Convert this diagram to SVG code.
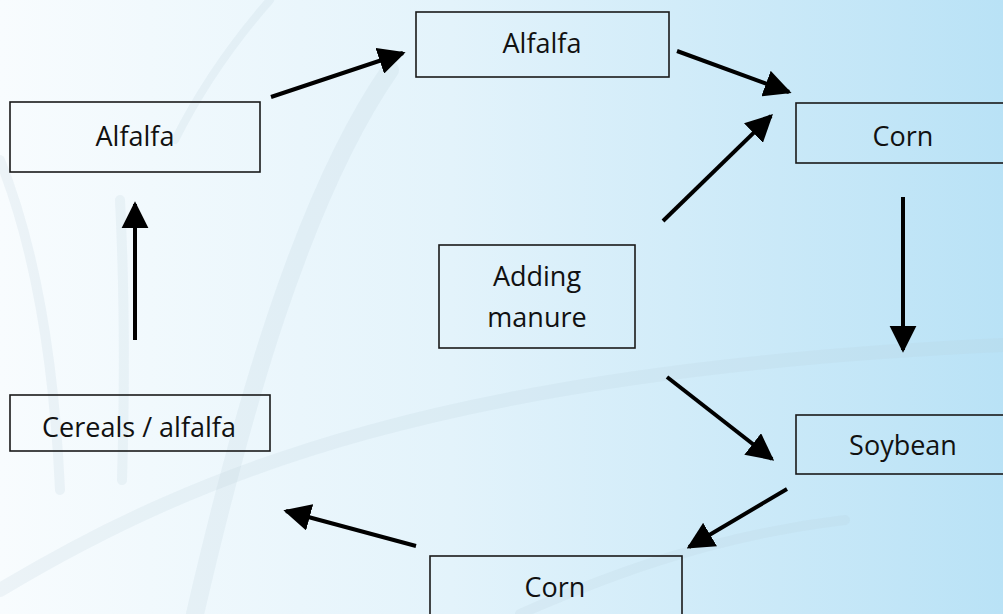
<svg xmlns="http://www.w3.org/2000/svg" width="1003" height="614" viewBox="0 0 1003 614">
<defs>
<linearGradient id="bg" x1="0" y1="0" x2="1" y2="0">
<stop offset="0" stop-color="#f8fcfe"/>
<stop offset="0.45" stop-color="#e3f3fb"/>
<stop offset="1" stop-color="#b9e2f6"/>
</linearGradient>
<marker id="ah" viewBox="0 0 10 10" refX="9" refY="5" markerWidth="6.8" markerHeight="6.8" markerUnits="strokeWidth" orient="auto">
<path d="M0,0 L10,5 L0,10 Z" fill="#000"/>
</marker>
<style>
.box{fill:none;stroke:#1a1a1a;stroke-width:1.6}
.lbl{font-family:"Open Sans","Noto Sans",sans-serif;font-size:27px;fill:#111;text-anchor:middle}
.con{stroke:#000;stroke-width:4;fill:none;marker-end:url(#ah)}
.sw{fill:none;stroke:#b8ccd8;stroke-opacity:0.18;stroke-linecap:round}
</style>
</defs>
<rect width="1003" height="614" fill="url(#bg)"/>
<g id="swooshes">
<path class="sw" stroke-width="18" d="M195,614 C240,420 300,200 390,70"/>
<path class="sw" stroke-width="10" d="M0,160 C40,260 55,380 60,490"/>
<path class="sw" stroke-width="10" d="M120,200 C125,300 125,380 122,480"/>
<path class="sw" stroke-width="14" d="M0,590 C200,470 450,370 1003,345"/>
<path class="sw" stroke-width="10" d="M520,614 C620,570 720,535 845,520"/>
<path class="sw" stroke-width="8" d="M270,0 C235,40 200,90 175,140"/>
</g>
<g id="connectors">
<line class="con" x1="271" y1="97" x2="403" y2="53"/>
<line class="con" x1="677" y1="51" x2="789" y2="92"/>
<line class="con" x1="663" y1="221" x2="771" y2="116"/>
<line class="con" x1="903" y1="197" x2="903" y2="350"/>
<line class="con" x1="667" y1="377" x2="772" y2="459"/>
<line class="con" x1="787" y1="489" x2="689" y2="547"/>
<line class="con" x1="416" y1="546" x2="286" y2="511"/>
<line class="con" x1="135" y1="340" x2="135" y2="204"/>
</g>
<g id="n-alfalfa-left"><rect class="box" x="10" y="102" width="250" height="70"/><text class="lbl" x="135" y="146">Alfalfa</text></g>
<g id="n-alfalfa-top"><rect class="box" x="416" y="12" width="253" height="65"/><text class="lbl" x="542" y="53">Alfalfa</text></g>
<g id="n-corn-right"><rect class="box" x="796" y="103" width="215" height="60"/><text class="lbl" x="903" y="146">Corn</text></g>
<g id="n-manure"><rect class="box" x="439" y="245" width="196" height="103"/><text class="lbl" x="537" y="286">Adding</text><text class="lbl" x="537" y="327">manure</text></g>
<g id="n-soybean"><rect class="box" x="796" y="415" width="215" height="59"/><text class="lbl" x="903" y="455">Soybean</text></g>
<g id="n-corn-bottom"><rect class="box" x="430" y="556" width="252" height="70"/><text class="lbl" x="555" y="597">Corn</text></g>
<g id="n-cereals"><rect class="box" x="10" y="395" width="260" height="56"/><text class="lbl" x="139" y="437">Cereals / alfalfa</text></g>
</svg>
